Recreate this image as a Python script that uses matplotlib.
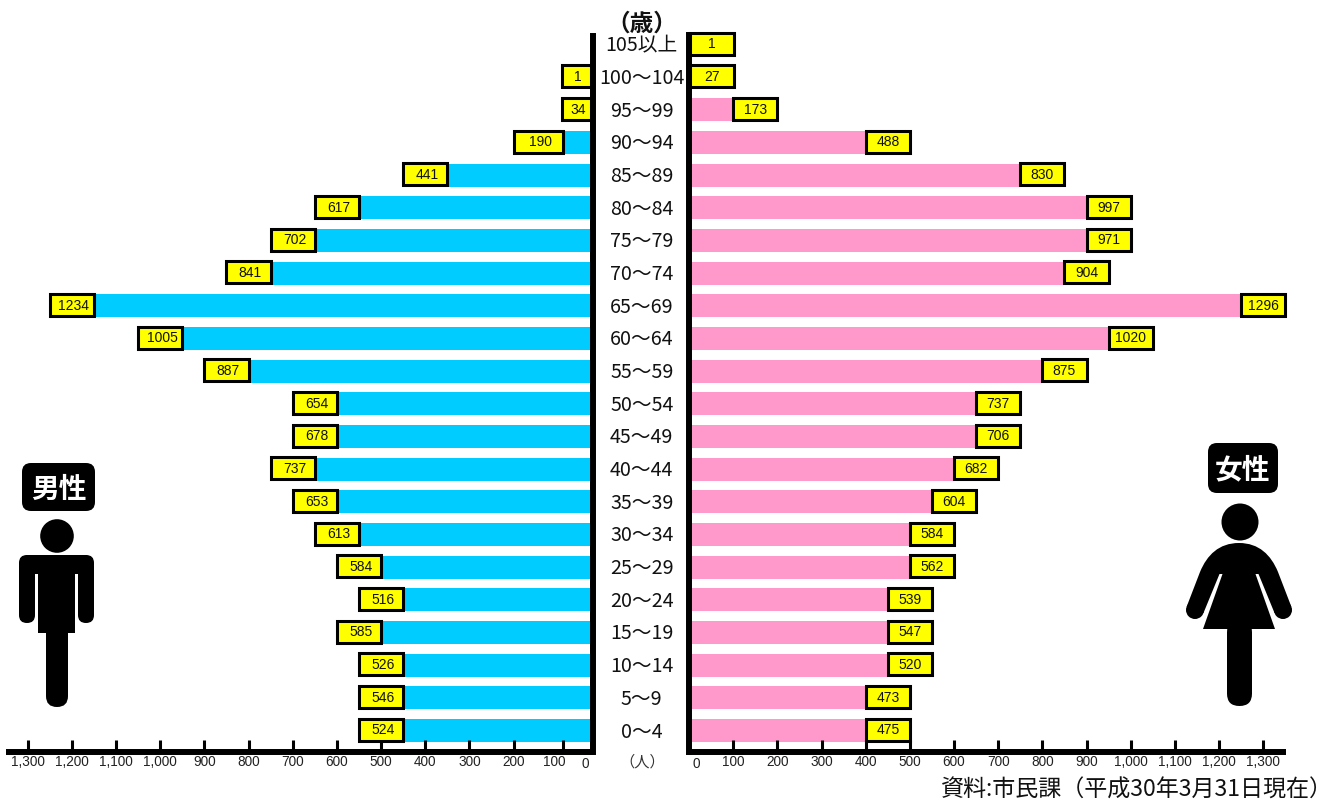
import math
import matplotlib
matplotlib.use("Agg")
import matplotlib.pyplot as plt
import numpy as np
from matplotlib.patches import Rectangle, Circle, FancyBboxPatch, PathPatch
from matplotlib.path import Path
from matplotlib.transforms import ScaledTranslation

CJK = ['Noto Sans CJK JP', 'DejaVu Sans']
LAT = ['Liberation Sans', 'DejaVu Sans']

# ---------- data ----------
age_groups = ['0～4', '5～9', '10～14', '15～19', '20～24', '25～29', '30～34', '35～39',
              '40～44', '45～49', '50～54', '55～59', '60～64', '65～69', '70～74',
              '75～79', '80～84', '85～89', '90～94', '95～99', '100～104', '105以上']
male = [524, 546, 526, 585, 516, 584, 613, 653, 737, 678, 654, 887, 1005, 1234,
        841, 702, 617, 441, 190, 34, 1, None]
female = [475, 473, 520, 547, 539, 562, 584, 604, 682, 706, 737, 875, 1020, 1296,
          904, 971, 997, 830, 488, 173, 27, 1]
tick_values = [100, 200, 300, 400, 500, 600, 700, 800, 900, 1000, 1100, 1200, 1300]
tick_labels = ['100', '200', '300', '400', '500', '600', '700', '800', '900',
               '1,000', '1,100', '1,200', '1,300']

W, H = 1336, 801
fig = plt.figure(figsize=(W / 100, H / 100), dpi=100, facecolor='white')


def add_axes_px(x0, x1, ytop, ybot):
    return fig.add_axes([x0 / W, 1 - ybot / H, (x1 - x0) / W, (ybot - ytop) / H])


def row_limits(ytop, ybot):
    # row i is centred at 730.5 - 32.67 i pixels
    return (730.5 - ybot) / 32.67, (730.5 - ytop) / 32.67


ax_m = add_axes_px(6, 593, 36, 752)
ax_f = add_axes_px(689, 1286, 35, 752)
ax_m.set_xlim(1349, 20.4)
ax_f.set_xlim(0, 1351.6)
ax_m.set_ylim(*row_limits(36, 752))
ax_f.set_ylim(*row_limits(35, 752))

rows = np.arange(len(age_groups))
ax_m.barh(rows, [v if v is not None else 0 for v in male], height=0.704, color='#00CCFF', linewidth=0)
ax_f.barh(rows, female, height=0.704, color='#FF99CC', linewidth=0)


def tag_end(v, floor, overrides):
    return overrides.get(v, max(math.ceil(v / 50) * 50, floor))


def draw_tags(ax, values, floor, near_limit, overrides, wide, text_shift):
    for i, v in enumerate(values):
        if v is None:
            continue
        outer = tag_end(v, floor, overrides)
        inner = max(outer - wide.get(v, 100), near_limit)
        ax.add_patch(Rectangle((inner, i - 0.31), outer - inner, 0.67,
                               facecolor='#FFFF00', edgecolor='black',
                               linewidth=2.2, zorder=3, clip_on=(near_limit > 10)))
        ax.text((inner + outer) / 2 + text_shift, i + 0.0, str(v), ha='center', va='center',
                family=LAT, fontsize=10, color='#111111', zorder=4)


draw_tags(ax_m, male, 90, 26, {}, {190: 112}, -4)
draw_tags(ax_f, female, 102, 3, {1296: 1350}, {}, 0)

for ax, side in ((ax_m, 'right'), (ax_f, 'left')):
    for s in ('top', 'left', 'right', 'bottom'):
        ax.spines[s].set_visible(s in (side, 'bottom'))
        ax.spines[s].set_linewidth(4.3)
    ax.spines[side].set_capstyle('projecting')
    ax.spines['bottom'].set_capstyle('butt')
    ax.set_xticks(tick_values)
    ax.set_xticklabels(tick_labels, family=LAT, fontsize=9.8, color='#222222')
    ax.tick_params(axis='x', direction='in', length=8.5, width=2.2, pad=2.5)

# the first male tick sits off the regular spacing in the original artwork
ax_m.set_xticks([88.3] + tick_values[1:])
ax_m.set_xticklabels(tick_labels, family=LAT, fontsize=9.8, color='#222222')
first = ax_m.get_xticklabels()[0]
first.set_transform(first.get_transform() + ScaledTranslation(-9 / 100, 0, fig.dpi_scale_trans))

ax_m.set_yticks([])
ax_f.set_yticks(rows)
ax_f.set_yticklabels(age_groups, family=CJK, fontsize=14.2, color='#111111', ha='center')
ax_f.tick_params(axis='y', length=0, pad=34)
for lab in ax_f.get_yticklabels():
    lab.set_transform(lab.get_transform() + ScaledTranslation(0, 1 / 100, fig.dpi_scale_trans))

# ---------- pixel overlay: captions and pictograms ----------
ov = fig.add_axes([0, 0, 1, 1], zorder=10)
ov.set_xlim(0, W)
ov.set_ylim(H, 0)
ov.axis('off')
ov.patch.set_alpha(0)

ov.text(642, 24, '（歳）', ha='center', va='center', family=CJK, fontsize=17, fontweight='bold', color='#111111')
ov.text(642, 762, '（人）', ha='center', va='center', family=CJK, fontsize=11, color='#333333')
ov.text(585, 763.5, '0', ha='center', va='center', family=LAT, fontsize=9.8, color='#222222')
ov.text(696, 764.5, '0', ha='center', va='center', family=LAT, fontsize=9.8, color='#222222')
ov.text(1333, 790, '資料:市民課（平成30年3月31日現在）', ha='right', va='center', family=CJK,
        fontsize=16.6, color='#111111')


def rbox(x0, y0, x1, y1, r, color='black'):
    ov.add_patch(FancyBboxPatch((x0 + r, y0 + r), x1 - x0 - 2 * r, y1 - y0 - 2 * r,
                                boxstyle=f'round,pad={r},rounding_size={r}',
                                facecolor=color, edgecolor='none', linewidth=0))


# name tags
rbox(22, 463, 95, 511, 9)
ov.text(58.5, 489.5, '男性', ha='center', va='center', family=CJK, fontsize=20,
        fontweight='bold', color='white')
rbox(1208, 443, 1278, 493, 9)
ov.text(1243, 470, '女性', ha='center', va='center', family=CJK, fontsize=20,
        fontweight='bold', color='white')

# man
ov.add_patch(Circle((57, 536), 16.8, color='black', linewidth=0))
rbox(19, 555, 35, 623, 7.9)
rbox(78, 555, 94, 623, 7.9)
ov.add_patch(Rectangle((26, 555), 61, 19, color='black', linewidth=0))
ov.add_patch(Rectangle((38.3, 555), 36.7, 78, color='black', linewidth=0))
rbox(46, 620, 68, 707, 10.9)


# woman: one silhouette mirrored about the body axis
AXIS = 2478


def mirror(p):
    return (AXIS - p[0], p[1])


left_side = [(1186.6, 606.8), (1203.4, 613.2), (1219.5, 574), (1222.5, 574), (1203, 629)]
verts = [(1239, 543), (1219, 543), (1207, 555), (1200, 572)]
codes = [Path.MOVETO, Path.CURVE4, Path.CURVE4, Path.CURVE4]
verts += left_side
codes += [Path.LINETO] * len(left_side)
verts += [mirror(p) for p in reversed(left_side)]
codes += [Path.LINETO] * len(left_side)
verts += [mirror((1200, 572)), mirror((1207, 555)), mirror((1219, 543)), (1239, 543), (1239, 543)]
codes += [Path.LINETO, Path.CURVE4, Path.CURVE4, Path.CURVE4, Path.CLOSEPOLY]
ov.add_patch(PathPatch(Path(verts, codes), facecolor='black', edgecolor='none', linewidth=0))
ov.add_patch(Circle((1240, 522), 18.5, color='black', linewidth=0))
ov.add_patch(Circle((1195, 610), 9, color='black', linewidth=0))
ov.add_patch(Circle(mirror((1195, 610)), 9, color='black', linewidth=0))
rbox(1227, 620, 1252, 706, 12.4)

fig.savefig('out.png', dpi=100, facecolor='white')
